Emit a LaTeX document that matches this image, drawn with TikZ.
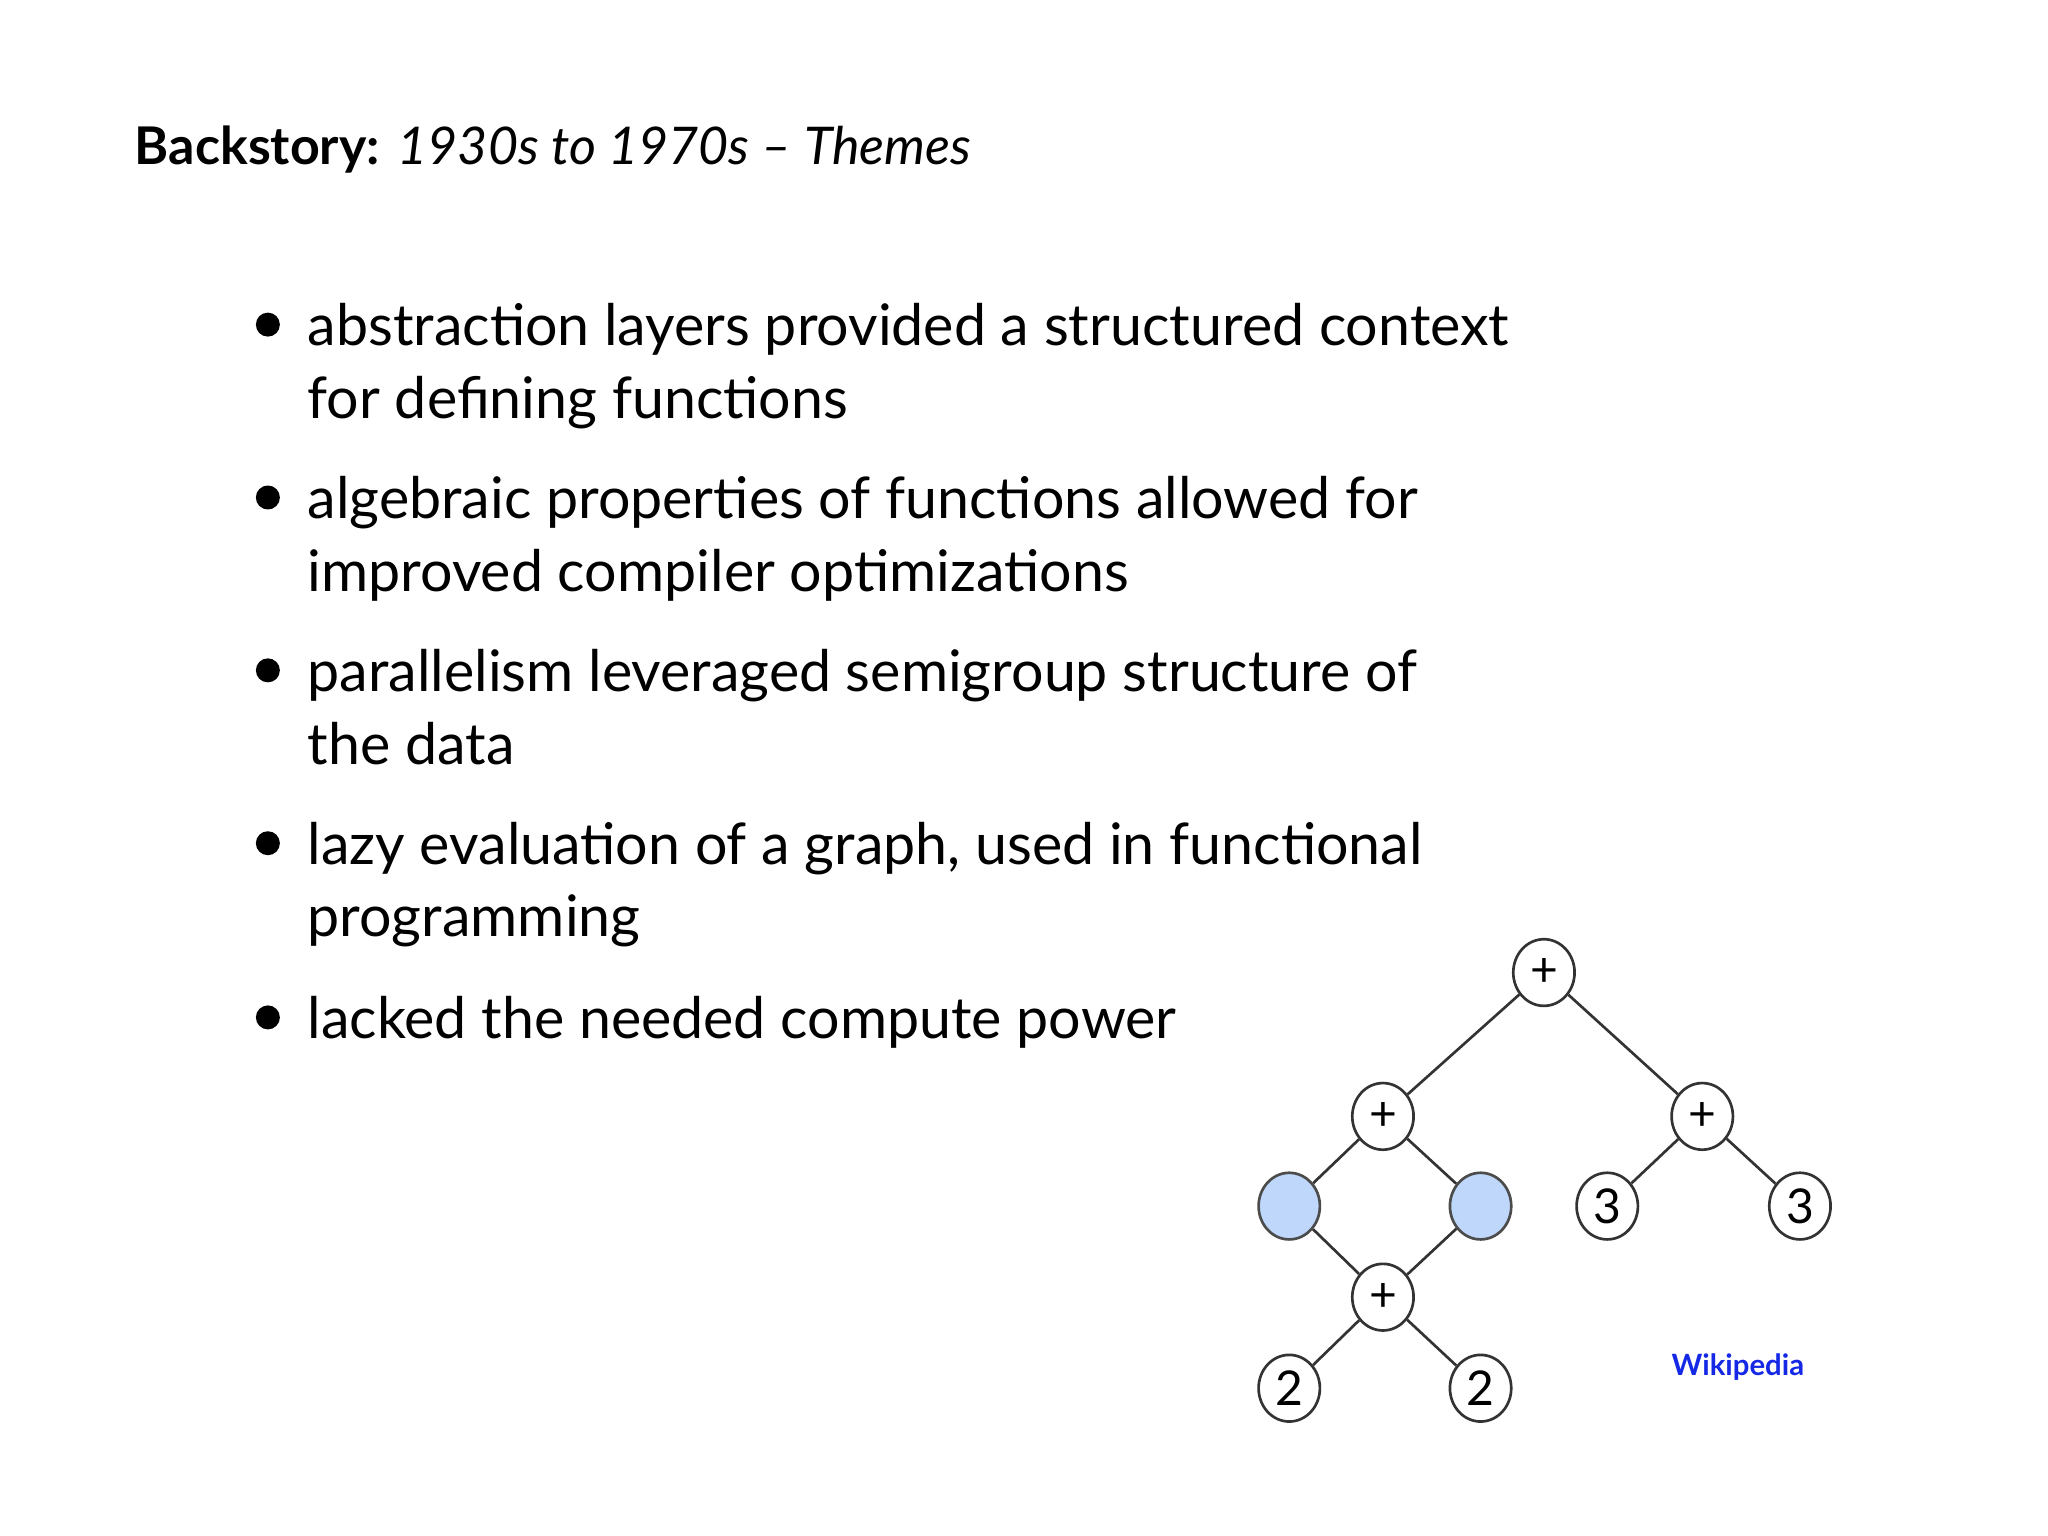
\documentclass[tikz,border=0pt]{standalone}
\usepackage{fontspec}
\setmainfont{Lato}
\usetikzlibrary{shapes.geometric}
\definecolor{nodeblue}{RGB}{190,215,250}
\definecolor{wikiblue}{RGB}{20,40,230}
\begin{document}
\begin{tikzpicture}[x=0.99pt,y=-0.99pt,
  tn/.style={ellipse,draw=black!80,line width=2pt,minimum width=46pt,minimum height=50pt,inner sep=0pt,font=\fontsize{36}{36}\selectfont,fill=white},
  bl/.style={tn,fill=nodeblue,draw=black!70},
  ed/.style={draw=black!80,line width=2pt},
  tx/.style={anchor=base west,inner sep=0pt,font=\fontsize{43}{43}\selectfont},
  dot/.style={circle,fill=black,inner sep=0pt,minimum size=18pt}]
\useasboundingbox (0,0) rectangle (1552,1164);
\node[anchor=base west,inner sep=0pt,font=\fontsize{39}{39}\selectfont] (title) at (102,125) {\textbf{Backstory:} \textit{1930s to 1970s -- Themes}};
\foreach \y/\i in {246/1,377/2,508/3,639/4,771/5}{\node[dot] (b\i) at (203,\y) {};}
\node[tx] (l1) at (233,262) {abstraction layers provided a structured context};
\node[tx] (l1b) at (233,317) {for defining functions};
\node[tx] (l2) at (233,393) {algebraic properties of functions allowed for};
\node[tx] (l2b) at (233,448) {improved compiler optimizations};
\node[tx] (l3) at (233,524) {parallelism leveraged semigroup structure of};
\node[tx] (l3b) at (233,579) {the data};
\node[tx] (l4) at (233,655) {lazy evaluation of a graph, used in functional};
\node[tx] (l4b) at (233,710) {programming};
\node[tx] (l5) at (233,787) {lacked the needed compute power};
\node[tn] (r) at (1170,737) {+};
\node[tn] (lp) at (1048,846) {+};
\node[tn] (rp) at (1290,846) {+};
\node[bl] (u1) at (977,914) {};
\node[bl] (u2) at (1122,914) {};
\node[tn] (t1) at (1218,914) {3};
\node[tn] (t2) at (1364,914) {3};
\node[tn] (bp) at (1048,983) {+};
\node[tn] (w1) at (977,1052) {2};
\node[tn] (w2) at (1122,1052) {2};
\draw[ed] (r)--(lp) (r)--(rp) (lp)--(u1) (lp)--(u2) (rp)--(t1) (rp)--(t2) (u1)--(bp) (u2)--(bp) (bp)--(w1) (bp)--(w2);
\node[font=\bfseries\fontsize{22}{22}\selectfont,text=wikiblue] (wk) at (1317,1036) {Wikipedia};
\end{tikzpicture}
\end{document}
